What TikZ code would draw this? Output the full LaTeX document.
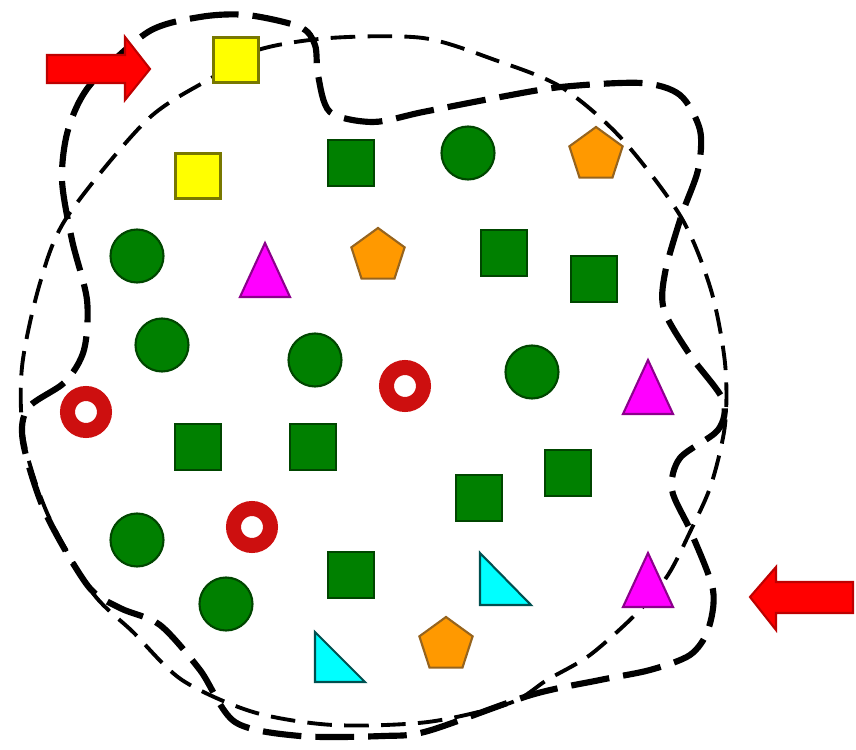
\documentclass[tikz,border=0pt]{standalone}
\usetikzlibrary{shapes.geometric}

\definecolor{leafgreen}{RGB}{0,128,0}
\definecolor{leafedge}{RGB}{0,70,0}
\definecolor{lemon}{RGB}{255,255,0}
\definecolor{lemonedge}{RGB}{120,120,0}
\definecolor{amber}{RGB}{255,153,0}
\definecolor{amberedge}{RGB}{150,100,30}
\definecolor{pink}{RGB}{255,0,255}
\definecolor{pinkedge}{RGB}{140,0,140}
\definecolor{aqua}{RGB}{0,255,255}
\definecolor{aquaedge}{RGB}{0,80,80}
\definecolor{ringred}{RGB}{205,15,15}
\definecolor{arrowred}{RGB}{255,0,0}
\definecolor{arrowedge}{RGB}{190,0,0}

\tikzset{
  thinloop/.style={line width=1.1pt, dash pattern=on 7pt off 3.5pt},
  thickloop/.style={line width=1.75pt, dash pattern=on 11pt off 4pt},
  gsq/.style={rectangle, draw=leafedge, fill=leafgreen, line width=0.6pt, minimum size=4.6mm, inner sep=0pt},
  ysq/.style={rectangle, draw=lemonedge, fill=lemon, line width=0.6pt, minimum size=4.5mm, inner sep=0pt},
  gdot/.style={circle, draw=leafedge, fill=leafgreen, line width=0.6pt, minimum size=5.3mm, inner sep=0pt},
  ring/.style={circle, draw=ringred, line width=1.5mm, minimum size=3.7mm, inner sep=0pt},
  pent/.style={regular polygon, regular polygon sides=5, draw=amberedge, fill=amber, line width=0.6pt, minimum size=5.6mm, inner sep=0pt},
  tri/.style={draw=pinkedge, fill=pink, line width=0.6pt},
  wedge/.style={draw=aquaedge, fill=aqua, line width=0.6pt},
  blockarrow/.style={draw=arrowedge, fill=arrowred, line width=0.6pt}
}

\begin{document}
\begin{tikzpicture}[x=0.1mm, y=-0.1mm]
    \useasboundingbox (0,0) rectangle (856,750);

    % Inner loop (short dashes)
    \draw[thinloop] plot[smooth cycle] coordinates {
        (213,77) (258,50) (330,38) (423,38) (495,60) (561,87) (621,138)
        (681,217) (711,290) (725,363) (725,425) (711,485) (690,532)
        (668,575) (638,612) (590,655) (547,680) (510,703) (428,722)
        (333,725) (253,712) (182,680) (133,632) (92,592) (48,515)
        (24,440) (22,367) (40,283) (67,217) (147,120)};

    % Outer loop (long dashes)
    \draw[thickloop] plot[smooth cycle] coordinates {
        (148,32) (200,17) (247,15) (300,27) (315,45) (318,75)
        (330,112) (373,122) (423,112) (495,98) (561,87) (641,83)
        (680,95) (700,130) (698,170) (681,217) (665,273) (664,310)
        (690,355) (723,400) (718,430) (680,458) (672,490) (691,532)
        (713,590) (708,630) (690,655) (650,670) (600,680) (531,695)
        (428,731) (383,736) (300,736) (235,722) (200,670) (160,625)
        (120,608) (88,586) (45,512) (23,442) (28,408) (65,382)
        (84,350) (87,300) (72,240) (62,180) (68,130) (90,85)};

    % Yellow squares
    \node[ysq] (y1) at (236,60) {};
    \node[ysq] (y2) at (198,176) {};

    % Green squares
    \node[gsq] (g1) at (351,163) {};
    \node[gsq] (g2) at (504,253) {};
    \node[gsq] (g3) at (594,279) {};
    \node[gsq] (g4) at (198,447) {};
    \node[gsq] (g5) at (313,447) {};
    \node[gsq] (g6) at (568,473) {};
    \node[gsq] (g7) at (479,498) {};
    \node[gsq] (g8) at (351,575) {};

    % Green circles
    \node[gdot] (c1) at (468,153) {};
    \node[gdot] (c2) at (137,256) {};
    \node[gdot] (c3) at (162,345) {};
    \node[gdot] (c4) at (315,360) {};
    \node[gdot] (c5) at (532,372) {};
    \node[gdot] (c6) at (137,540) {};
    \node[gdot] (c7) at (226,604) {};

    % Red rings
    \node[ring] (r1) at (86,412) {};
    \node[ring] (r2) at (405,386) {};
    \node[ring] (r3) at (252,527) {};

    % Orange pentagons
    \node[pent] (p1) at (596,155) {};
    \node[pent] (p2) at (378,256) {};
    \node[pent] (p3) at (446,645) {};

    % Magenta triangles
    \foreach \x/\y in {265/270, 648/387, 648/580}
        \draw[tri] (\x,\y) ++(0,-27) -- ++(25,54) -- ++(-50,0) -- cycle;

    % Cyan right triangles
    \draw[wedge] (480,553) -- (531,605) -- (480,605) -- cycle;
    \draw[wedge] (315,632) -- (365,682) -- (315,682) -- cycle;

    % Entry and exit arrows
    \draw[blockarrow] (47,55) -- (125,55) -- (125,37) -- (150,69)
        -- (125,100) -- (125,83) -- (47,83) -- cycle;
    \draw[blockarrow] (853,582) -- (776,582) -- (776,567) -- (750,597)
        -- (776,630) -- (776,613) -- (853,613) -- cycle;
\end{tikzpicture}
\end{document}
